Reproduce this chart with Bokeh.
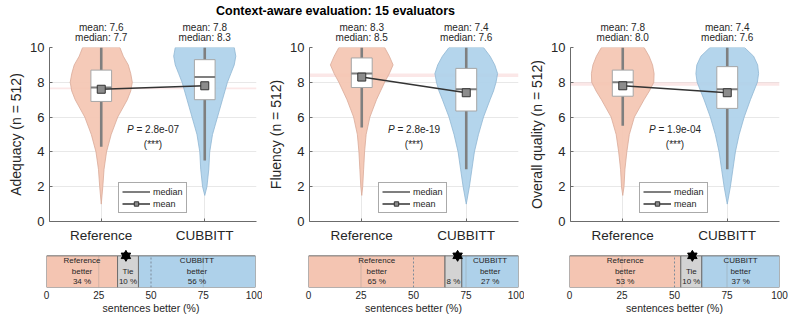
from bokeh.plotting import figure
from bokeh.models import Range1d, FixedTicker, LinearAxis, Legend, LegendItem, BoxAnnotation, Label
from bokeh.layouts import column, row
from bokeh.embed import file_html
from bokeh.resources import INLINE
from bokeh.core.properties import value

# ---------------- data ----------------
title_text = "Context-aware evaluation: 15 evaluators"
groups = ["Reference", "CUBBITT"]
metrics = ["Adequacy", "Fluency", "Overall quality"]
n_sent = 512

mean_ref = [7.6, 8.3, 7.8]
mean_cub = [7.8, 7.4, 7.4]
median_ref = [7.7, 8.5, 8.0]
median_cub = [8.3, 7.6, 7.6]
q1_ref = [6.9, 7.7, 7.2]
q3_ref = [8.7, 9.4, 8.7]
q1_cub = [7.0, 6.35, 6.5]
q3_cub = [9.3, 8.8, 8.9]
whisk_lo_ref = [4.3, 5.4, 5.5]
whisk_lo_cub = [3.5, 3.0, 3.0]
whisk_hi_ref = [10, 10, 10]
whisk_hi_cub = [10, 10, 10]
min_ref = [1.0, 1.5, 1.5]
min_cub = [1.5, 1.0, 1.0]
p_values = ["2.8e-07", "2.8e-19", "1.9e-04"]
signif = ["(***)", "(***)", "(***)"]

# violin relative densities at these score levels (value 0 at each minimum)
dens_levels = [2, 3, 4, 5, 6, 7, 7.5, 8, 8.5, 9, 9.5, 10]
dens_ref_adequacy = [.05, .09, .17, .32, .53, .84, .95, 1.0, .95, .87, .71, .60]
dens_cub_adequacy = [.07, .13, .16, .25, .41, .57, .65, .73, .84, .95, 1.0, .95]
dens_ref_fluency = [.03, .06, .09, .14, .26, .47, .60, .73, .88, 1.0, .88, .73]
dens_cub_fluency = [.10, .18, .26, .39, .55, .76, .87, .95, 1.0, .91, .76, .55]
dens_ref_overall = [.04, .07, .13, .21, .37, .68, .85, .99, 1.0, .95, .84, .68]
dens_cub_overall = [.10, .18, .26, .38, .54, .74, .85, .96, 1.0, .97, .84, .55]
dens_ref = [dens_ref_adequacy, dens_ref_fluency, dens_ref_overall]
dens_cub = [dens_cub_adequacy, dens_cub_fluency, dens_cub_overall]

# sentence-level preference (%)
pct_ref = [34, 65, 53]
pct_tie = [10, 8, 10]
pct_cub = [56, 27, 37]
star_pos = [38, 71, 58.5]
bar_ticks = [0, 25, 50, 75, 100]
y_ticks = [0, 2, 4, 6, 8, 10]

# ---------------- style ----------------
FONT = "Liberation Sans"
TXT = "#262626"
AX = "#6b6b6b"
GRID = "#e8e8e8"
REF_FILL = "#f4c5b2"
CUB_FILL = "#aed1ea"
TIE_FILL = "#d3d3d3"
REF_EDGE = "#d9aa98"
CUB_EDGE = "#8fb6d3"
BAR_EDGE = "#6e6e6e"
VH = 0.30   # max half width of violin (x units)
BOXW = 0.20

xpos = [1, 2]


def violin_outline(center, lo, dens):
    ys = [lo] + dens_levels
    ws = [0.0] + dens
    xr = [center + w * VH for w in ws]
    xl = [center - w * VH for w in ws]
    return xr + xl[::-1], ys + ys[::-1]


def violin_fig(i, width, bl, br):
    p = figure(width=width, height=227, x_range=Range1d(0.5, 2.5), y_range=Range1d(0, 10),
               output_backend="svg", toolbar_location=None,
               min_border_left=bl, min_border_right=br, min_border_top=29, min_border_bottom=22)
    p.outline_line_color = None
    p.background_fill_color = "white"
    p.border_fill_color = "white"

    ya = p.yaxis[0]
    ya.ticker = FixedTicker(ticks=y_ticks)
    ya.axis_label = f"{metrics[i]} (n = {n_sent})"
    ya.axis_label_text_font = FONT
    ya.axis_label_text_font_style = "normal"
    ya.axis_label_text_font_size = "14px"
    ya.axis_label_text_color = TXT
    ya.axis_label_standoff = 3
    ya.major_label_text_font = FONT
    ya.major_label_text_font_size = "13px"
    ya.major_label_text_color = TXT
    ya.major_label_standoff = 5
    ya.axis_line_color = AX
    ya.major_tick_line_color = AX
    ya.major_tick_in = 3
    ya.major_tick_out = 0
    ya.minor_tick_line_color = None

    xa = p.xaxis[0]
    xa.ticker = FixedTicker(ticks=xpos)
    xa.major_label_overrides = {1: groups[0], 2: groups[1]}
    xa.major_label_text_font = FONT
    xa.major_label_text_font_size = "13.5px"
    xa.major_label_text_color = TXT
    xa.major_label_standoff = 6
    xa.axis_line_color = AX
    xa.major_tick_line_color = AX
    xa.major_tick_in = 3
    xa.major_tick_out = 0
    xa.minor_tick_line_color = None

    top = LinearAxis(ticker=FixedTicker(ticks=xpos),
                     major_label_overrides={
                         1: f"mean: {mean_ref[i]:.1f}\nmedian: {median_ref[i]:.1f}",
                         2: f"mean: {mean_cub[i]:.1f}\nmedian: {median_cub[i]:.1f}"})
    top.axis_line_color = None
    top.major_tick_line_color = None
    top.minor_tick_line_color = None
    top.major_tick_in = 0
    top.major_tick_out = 0
    top.major_label_text_font = FONT
    top.major_label_text_font_size = "10px"
    top.major_label_text_color = TXT
    top.major_label_text_line_height = 0.85
    top.major_label_standoff = 5
    p.add_layout(top, "above")

    p.xgrid.ticker = FixedTicker(ticks=xpos)
    p.ygrid.ticker = FixedTicker(ticks=[2, 4, 6, 8, 10])
    p.grid.grid_line_color = GRID

    lo_b, hi_b = sorted([mean_ref[i], median_ref[i]])
    p.add_layout(BoxAnnotation(bottom=lo_b, top=hi_b, fill_color="#f7c9c9", fill_alpha=0.45,
                               line_color=None, level="underlay"))

    xs_r, ys_r = violin_outline(xpos[0], min_ref[i], dens_ref[i])
    xs_c, ys_c = violin_outline(xpos[1], min_cub[i], dens_cub[i])
    p.patch(xs_r, ys_r, fill_color=REF_FILL, fill_alpha=0.92, line_color=REF_EDGE, line_width=0.8)
    p.patch(xs_c, ys_c, fill_color=CUB_FILL, fill_alpha=0.92, line_color=CUB_EDGE, line_width=0.8)

    p.segment(x0=xpos, y0=[whisk_lo_ref[i], whisk_lo_cub[i]], x1=xpos,
              y1=[whisk_hi_ref[i], whisk_hi_cub[i]], line_color="#7f7f7f", line_width=2.6)
    p.quad(left=[x - BOXW / 2 for x in xpos], right=[x + BOXW / 2 for x in xpos],
           bottom=[q1_ref[i], q1_cub[i]], top=[q3_ref[i], q3_cub[i]],
           fill_color="white", line_color="#a6a6a6", line_width=1)
    r_med = p.segment(x0=[x - BOXW / 2 for x in xpos], x1=[x + BOXW / 2 for x in xpos],
                      y0=[median_ref[i], median_cub[i]], y1=[median_ref[i], median_cub[i]],
                      line_color="#7f7f7f", line_width=2)
    r_ml = p.line(x=xpos, y=[mean_ref[i], mean_cub[i]], line_color="#333333", line_width=1.5)
    r_mp = p.scatter(x=xpos, y=[mean_ref[i], mean_cub[i]], marker="square", size=8,
                     fill_color="#8c8c8c", line_color="#333333", line_width=1)

    p.text(x=[1.5], y=[5.3], text=["P"], text_font=value(FONT), text_font_style="italic",
           text_font_size="10px", text_align="right", text_baseline="middle",
           x_offset=-19.3, text_color=TXT)
    p.text(x=[1.5], y=[5.3], text=[f"= {p_values[i]}"], text_font=value(FONT),
           text_font_size="10px", text_align="left", text_baseline="middle",
           x_offset=-16.5, text_color=TXT)
    p.text(x=[1.5], y=[4.45], text=[signif[i]], text_font=value(FONT),
           text_font_size="10px", text_align="center", text_baseline="middle", text_color=TXT)

    leg = Legend(items=[LegendItem(label="median", renderers=[r_med]),
                        LegendItem(label="mean", renderers=[r_ml, r_mp])],
                 location=(69, 8))
    leg.label_text_font = FONT
    leg.label_text_font_size = "9px"
    leg.label_text_color = TXT
    leg.glyph_width = 28
    leg.glyph_height = 11
    leg.label_height = 11
    leg.label_standoff = 3
    leg.padding = 3
    leg.spacing = 1
    leg.margin = 0
    leg.border_line_color = "#555555"
    leg.border_line_width = 0.8
    p.add_layout(leg)
    return p


def bar_fig(i, width, bl, br):
    p = figure(width=width, height=71, x_range=Range1d(0, 100), y_range=Range1d(0, 1.2),
               output_backend="svg", toolbar_location=None, y_axis_location=None,
               min_border_left=bl, min_border_right=br, min_border_top=4, min_border_bottom=29)
    p.outline_line_color = None
    p.grid.grid_line_color = None
    xa = p.xaxis[0]
    xa.ticker = FixedTicker(ticks=bar_ticks)
    xa.axis_line_color = None
    xa.major_tick_line_color = None
    xa.minor_tick_line_color = None
    xa.major_tick_in = 0
    xa.major_tick_out = 0
    xa.major_label_text_font = FONT
    xa.major_label_text_font_size = "10px"
    xa.major_label_text_color = TXT
    xa.major_label_standoff = 3
    xa.axis_label = "sentences better (%)"
    xa.axis_label_text_font = FONT
    xa.axis_label_text_font_style = "normal"
    xa.axis_label_text_font_size = "10.5px"
    xa.axis_label_text_color = TXT
    xa.axis_label_standoff = 0

    a = pct_ref[i]
    b = pct_ref[i] + pct_tie[i]
    c = b + pct_cub[i]
    lefts = [0, a, b]
    rights = [a, b, c]
    p.hbar(y=[0.5] * 3, height=1, left=lefts, right=rights,
           fill_color=[REF_FILL, TIE_FILL, CUB_FILL], line_color=BAR_EDGE, line_width=1)
    inner = bar_ticks[1:-1]
    solid = [t for t in inner if t != 50]
    p.segment(x0=solid, x1=solid, y0=[0] * len(solid), y1=[1] * len(solid),
              line_color="#8a8a8a", line_alpha=0.35, line_width=1)
    p.segment(x0=[50], x1=[50], y0=[0], y1=[1], line_color="#7d8a99", line_dash="2 2",
              line_width=1)
    tie_lbl = f"Tie\n{pct_tie[i]} %" if pct_tie[i] >= 10 else f"{pct_tie[i]} %"
    labels = [f"{groups[0]}\nbetter\n{pct_ref[i]} %", tie_lbl, f"{groups[1]}\nbetter\n{pct_cub[i]} %"]
    p.text(x=[(l + r) / 2 for l, r in zip(lefts, rights)], y=[0.06] * 3, text=labels,
           text_font=value(FONT), text_font_size="8px", text_align="center",
           text_baseline="bottom", text_line_height=1.12, text_color=TXT)
    p.scatter(x=[star_pos[i]], y=[1], marker="triangle", size=9.5, fill_color="black", line_color="black")
    p.scatter(x=[star_pos[i]], y=[1], marker="inverted_triangle", size=9.5, fill_color="black", line_color="black")
    return p


tp = figure(width=788, height=18, x_range=Range1d(0, 1), y_range=Range1d(0, 1),
            output_backend="svg", toolbar_location=None, min_border=0,
            x_axis_location=None, y_axis_location=None)
tp.outline_line_color = None
tp.grid.visible = False
tp.add_layout(Label(x=335, y=8, x_units="screen", y_units="screen", text=title_text,
                    text_font=FONT, text_font_style="bold", text_font_size="12.5px",
                    text_align="center", text_baseline="middle", text_color="black"))

v1 = violin_fig(0, 262, 49, 6)
v2 = violin_fig(1, 262, 47, 6)
v3 = violin_fig(2, 264, 46, 9)
b1 = bar_fig(0, 262, 46, 7)
b2 = bar_fig(1, 262, 46, 6)
b3 = bar_fig(2, 264, 45, 9)

layout = column(tp, row(v1, v2, v3), row(b1, b2, b3))
open("out.html", "w").write(file_html(layout, INLINE))
